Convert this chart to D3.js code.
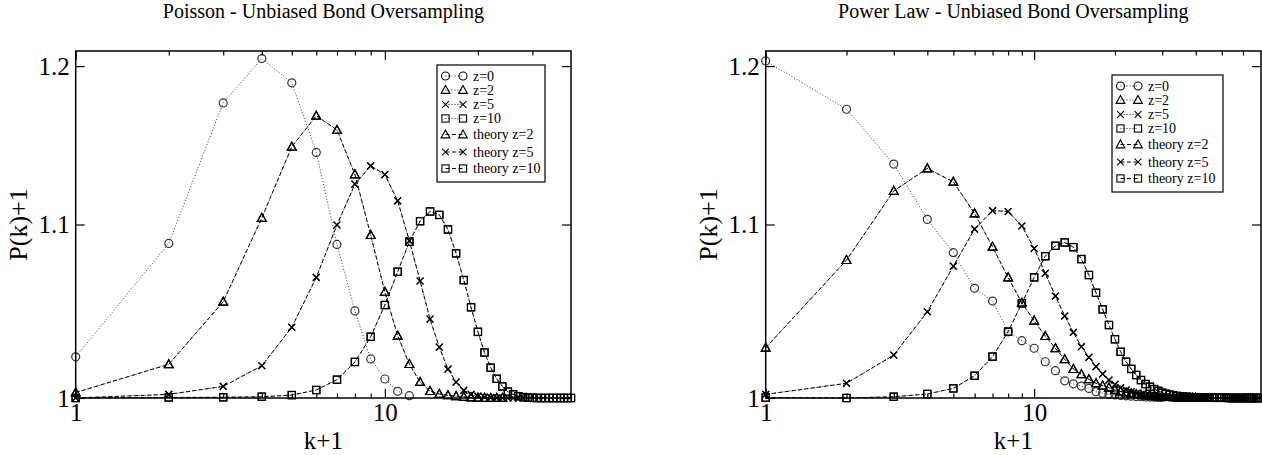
<!DOCTYPE html>
<html>
<head>
<meta charset="utf-8">
<script src="https://cdn.jsdelivr.net/npm/d3@7"></script>
<style>
  body { margin: 0; background: #fff; }
  svg { display: block; }
  text { font-family: "Liberation Serif", "Times New Roman", "DejaVu Serif", serif; fill: #000; }
</style>
</head>
<body>
<svg id="chart" width="1262" height="455"></svg>
<script>

// P(k)+1, index i -> k+1 = i+1

// Poisson panel
const poissonZ0 = [1.0229, 1.0886, 1.176, 1.205, 1.189, 1.1444, 1.088, 1.049, 1.0217, 1.0105, 1.0037, 1.0013];
const poissonZ2 = [1.003, 1.0187, 1.0543, 1.104, 1.148, 1.1677, 1.1586, 1.1307, 1.0936, 1.060, 1.0348, 1.0188,
                   1.0088, 1.0038, 1.0022, 1.0015, 1.001, 1.0006, 1.0003, 1.0001, 1, 1, 1, 1];
const poissonZ5 = [1.0, 1.002, 1.0064, 1.0179, 1.0396, 1.0685, 1.0997, 1.1247, 1.136, 1.1306, 1.1144, 1.0902,
                   1.0664, 1.0443, 1.0283, 1.016, 1.0088, 1.0042, 1.002, 1.001, 1.0005, 1.0002, 1.0001, 1, 1, 1, 1, 1];
const poissonZ10 = [1, 1.0003, 1.0004, 1.0007, 1.0016, 1.0044, 1.0101, 1.020, 1.0342, 1.0524, 1.0718, 1.0896,
                    1.102, 1.1079, 1.1058, 1.097, 1.0827, 1.0669, 1.0511, 1.037, 1.0253, 1.0168, 1.0106, 1.0064,
                    1.0035, 1.002, 1.001, 1.0005, 1.0002, 1.0001, 1, 1, 1, 1, 1, 1, 1, 1, 1, 1];

// Power law panel
const powerZ0 = [1.2034, 1.1719, 1.1371, 1.1031, 1.0831, 1.0621, 1.0547, 1.037, 1.032, 1.0277, 1.0201, 1.0151,
                 1.0095, 1.0078, 1.0066, 1.0053, 1.0035, 1.0026, 1.002, 1.0017, 1.0014, 1.0012, 1.001, 1.0008,
                 1.0007, 1.0006, 1.0005, 1.0004, 1.0003, 1.0003];
const powerZ2 = [1.028, 1.0787, 1.1205, 1.1344, 1.1261, 1.1067, 1.0866, 1.0685, 1.0537, 1.0434, 1.0346, 1.0277,
                 1.0215, 1.016, 1.0131, 1.0103, 1.0081, 1.0068, 1.0057, 1.0044, 1.0036, 1.003, 1.0025, 1.002,
                 1.0017, 1.0014, 1.0012, 1.001, 1.0008, 1.0007, 1.0006, 1.0005, 1.0004, 1.0003, 1.0003, 1.0002,
                 1.0002, 1.0002, 1.0001, 1.0001];
const powerZ5 = [1.002, 1.0081, 1.0239, 1.0485, 1.0751, 1.0972, 1.1084, 1.1079, 1.0991, 1.0856, 1.0709, 1.0576,
                 1.0461, 1.0367, 1.0286, 1.0226, 1.0174, 1.0133, 1.0099, 1.0075, 1.0057, 1.0044, 1.0034, 1.0026,
                 1.002, 1.0015, 1.0012, 1.0009, 1.0007, 1.0005, 1.0004, 1.0003, 1.0003, 1.0002, 1.0002, 1.0002,
                 1.0001, 1.0001, 1.0001, 1.0001, 1.0001, 1, 1, 1, 1];
const powerZ10 = [1.0002, 1.0, 1.0007, 1.0022, 1.0053, 1.0123, 1.023, 1.0371, 1.0534, 1.0685, 1.081, 1.0872,
                  1.0892, 1.0864, 1.0793, 1.0699, 1.0595, 1.0499, 1.0409, 1.0328, 1.0257, 1.0201, 1.0161, 1.0127,
                  1.0099, 1.0077, 1.0062, 1.0049, 1.0039, 1.0029, 1.0023, 1.0018, 1.0014, 1.0011, 1.0009, 1.0007,
                  1.0006, 1.0005, 1.0004, 1.0003, 1.0003, 1.0002, 1.0002, 1.0002, 1.0002, 1.0001, 1.0001, 1.0001,
                  1.0001, 1.0001, 1.0001, 1.0001, 1, 1, 1, 1, 1, 1, 1, 1, 1, 1, 1, 1, 1, 1, 1, 1, 1, 1];

// theory curves sit on top of the measured points
const poissonTheoryZ2 = poissonZ2, poissonTheoryZ5 = poissonZ5, poissonTheoryZ10 = poissonZ10;
const powerTheoryZ2 = powerZ2, powerTheoryZ5 = powerZ5, powerTheoryZ10 = powerZ10;

const legendLabels = ["z=0", "z=2", "z=5", "z=10", "theory z=2", "theory z=5", "theory z=10"];
const xMinorTicks = [2, 3, 4, 5, 6, 7, 8, 9, 20, 30, 40, 50, 60, 70];
const xMajorTicks = [1, 10];
const yTicks = [1, 1.1, 1.2];
const yTickLabels = ["1", "1.1", "1.2"];

const chart = d3.select("#chart");
const plotTop = 51, plotBottom = 398;

// marker shapes, xmgrace style (hollow)
function drawMarker(g, type, cx, cy) {
    if (type === "circle") {
        g.append("circle").attr("cx", cx).attr("cy", cy).attr("r", 4);
    } else if (type === "triangle") {
        g.append("path").attr("d", `M${cx},${cy-4.6}L${cx+4.4},${cy+3.4}L${cx-4.4},${cy+3.4}Z`);
    } else if (type === "square") {
        g.append("rect").attr("x", cx-3.6).attr("y", cy-3.6).attr("width", 7.2).attr("height", 7.2);
    } else {
        g.append("path").attr("d", `M${cx-3.4},${cy-3.4}L${cx+3.4},${cy+3.4}M${cx-3.4},${cy+3.4}L${cx+3.4},${cy-3.4}`);
    }
}

function load_panel(p) {

    let x = d3.scaleLog().domain([1, p.xMax]).range([p.left, p.right]);
    let y = d3.scaleLog().domain([1, 1.21]).range([plotBottom, plotTop]);

    // title
    chart.append("text")
        .text(p.title)
        .attr("x", (p.left + p.right) / 2)
        .attr("y", 18)
        .attr("text-anchor", "middle")
        .style("font-size", "20px");

    // curves
    let line = d3.line()
        .x(function(d, i) { return x(i + 1); })
        .y(function(d) { return y(d); });

    p.series.forEach(function(s) {
        chart.append("path")
            .datum(s.values)
            .attr("d", line)
            .attr("fill", "none")
            .attr("stroke", s.dotted ? "#222" : "#000")
            .attr("stroke-width", s.dotted ? 0.9 : 1)
            .attr("stroke-dasharray", s.dotted ? "1,2" : "4,2.5");

        let mg = chart.append("g")
            .attr("fill", "none")
            .attr("stroke", s.dotted && s.marker === "circle" ? "#333" : "#000")
            .attr("stroke-width", 1.2);
        s.values.forEach(function(d, i) { drawMarker(mg, s.marker, x(i + 1), y(d)); });
    });

    // frame
    chart.append("rect")
        .attr("x", p.left).attr("y", plotTop)
        .attr("width", p.right - p.left).attr("height", plotBottom - plotTop)
        .attr("fill", "none").attr("stroke", "#000").attr("stroke-width", 1.5);

    let minors = xMinorTicks.filter(function(v) { return v < p.xMax; });
    let styleAxis = function(g) {
        g.select(".domain").remove();
        g.attr("font-family", "Liberation Serif, Times New Roman, serif").attr("font-size", 25);
        g.selectAll("line").attr("stroke-width", 1.2);
    };

    // x axes
    chart.append("g").attr("transform", "translate(0," + plotBottom + ")")
        .call(d3.axisBottom(x).tickValues(xMajorTicks).tickFormat(d3.format("d"))
              .tickSizeInner(-9).tickSizeOuter(0).tickPadding(5))
        .call(styleAxis);
    chart.append("g").attr("transform", "translate(0," + plotBottom + ")")
        .call(d3.axisBottom(x).tickValues(minors).tickFormat("").tickSizeInner(-4.5).tickSizeOuter(0))
        .call(styleAxis);
    chart.append("g").attr("transform", "translate(0," + plotTop + ")")
        .call(d3.axisTop(x).tickValues(xMajorTicks).tickFormat("").tickSizeInner(-9).tickSizeOuter(0))
        .call(styleAxis);
    chart.append("g").attr("transform", "translate(0," + plotTop + ")")
        .call(d3.axisTop(x).tickValues(minors).tickFormat("").tickSizeInner(-4.5).tickSizeOuter(0))
        .call(styleAxis);

    // y axes
    chart.append("g").attr("transform", "translate(" + p.left + ",0)")
        .call(d3.axisLeft(y).tickValues(yTicks)
              .tickFormat(function(d, i) { return yTickLabels[i]; })
              .tickSizeInner(-9).tickSizeOuter(0).tickPadding(6))
        .call(styleAxis);
    chart.append("g").attr("transform", "translate(" + p.right + ",0)")
        .call(d3.axisRight(y).tickValues(yTicks).tickFormat("").tickSizeInner(-9).tickSizeOuter(0))
        .call(styleAxis);

    // axis labels
    chart.append("text")
        .text("k+1")
        .attr("x", (p.left + p.right) / 2)
        .attr("y", 448.5)
        .attr("text-anchor", "middle")
        .style("font-size", "25px");

    chart.append("text")
        .text("P(k)+1")
        .attr("transform", "translate(" + (p.left - 58) + "," + ((plotTop + plotBottom) / 2) + ") rotate(-90)")
        .attr("dy", "0.35em")
        .attr("text-anchor", "middle")
        .style("font-size", "26px");

    // legend
    let lg = chart.append("g").attr("transform", "translate(" + p.legendX + "," + p.legendY + ")");
    lg.append("rect")
        .attr("width", p.legendW).attr("height", 117)
        .attr("fill", "#fff").attr("stroke", "#000").attr("stroke-width", 1.2);
    let rows = [11, 25, 39.5, 53.5, 69.5, 87, 103.5];
    p.series.forEach(function(s, i) {
        let ry = rows[i];
        lg.append("line")
            .attr("x1", 8.5).attr("x2", 26).attr("y1", ry).attr("y2", ry)
            .attr("stroke", "#000").attr("stroke-width", s.dotted ? 0.9 : 1)
            .attr("stroke-dasharray", s.dotted ? "1,2" : "4,2.5");
        let mg = lg.append("g").attr("fill", "none").attr("stroke", "#000").attr("stroke-width", 1.1);
        drawMarker(mg, s.marker, 8.5, ry);
        drawMarker(mg, s.marker, 26, ry);
        lg.append("text")
            .text(legendLabels[i])
            .attr("x", 36).attr("y", ry + 4.8)
            .style("font-size", "14px");
    });

    return { x_scale: x, y_scale: y };
}

load_panel({
    title: "Poisson - Unbiased Bond Oversampling",
    left: 75.7, right: 571, xMax: 40,
    legendX: 437, legendY: 65, legendW: 108,
    series: [
        { values: poissonZ0, marker: "circle", dotted: true },
        { values: poissonZ2, marker: "triangle", dotted: true },
        { values: poissonZ5, marker: "cross", dotted: true },
        { values: poissonZ10, marker: "square", dotted: true },
        { values: poissonTheoryZ2, marker: "triangle", dotted: false },
        { values: poissonTheoryZ5, marker: "cross", dotted: false },
        { values: poissonTheoryZ10, marker: "square", dotted: false }
    ]
});

load_panel({
    title: "Power Law - Unbiased Bond Oversampling",
    left: 765.7, right: 1261, xMax: 70,
    legendX: 1112, legendY: 75, legendW: 111,
    series: [
        { values: powerZ0, marker: "circle", dotted: true },
        { values: powerZ2, marker: "triangle", dotted: true },
        { values: powerZ5, marker: "cross", dotted: true },
        { values: powerZ10, marker: "square", dotted: true },
        { values: powerTheoryZ2, marker: "triangle", dotted: false },
        { values: powerTheoryZ5, marker: "cross", dotted: false },
        { values: powerTheoryZ10, marker: "square", dotted: false }
    ]
});
</script>
</body>
</html>
